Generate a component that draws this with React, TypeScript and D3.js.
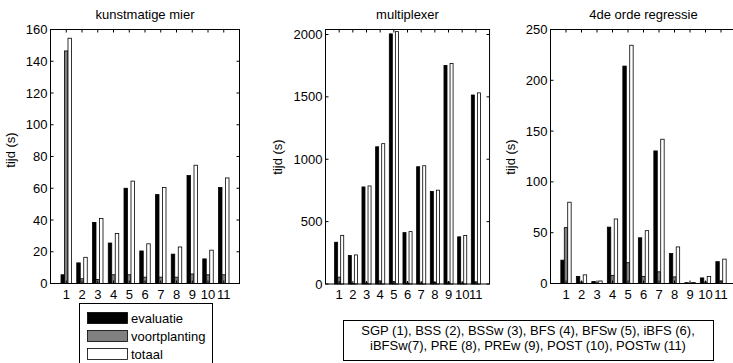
import React from 'react';
import * as d3 from 'd3';

const groups = ['1', '2', '3', '4', '5', '6', '7', '8', '9', '10', '11'];
const seriesNames = ['evaluatie', 'voortplanting', 'totaal'];
const seriesColors = ['#000000', '#808080', '#ffffff'];

const mierEvaluatie = [5.5, 13, 38.5, 25.5, 60, 20.5, 56, 18.5, 68, 15.5, 60.5];
const mierVoortplanting = [146.5, 3, 2.5, 5.5, 5.5, 4, 4, 4, 6, 5.5, 5.5];
const mierTotaal = [154.5, 16.5, 41, 31.5, 64.5, 25, 60.5, 23, 74.5, 21, 66.5];

const muxEvaluatie = [335, 228, 778, 1100, 2005, 412, 940, 742, 1752, 378, 1515];
const muxVoortplanting = [55, 5, 8, 25, 18, 8, 8, 12, 15, 8, 15];
const muxTotaal = [390, 233, 786, 1125, 2023, 420, 948, 752, 1768, 388, 1532];

const regEvaluatie = [23, 7, 2, 55.5, 214, 45, 130.5, 29.5, 0.8, 5.5, 21.5];
const regVoortplanting = [55, 1.5, 0.5, 8, 20.5, 7, 11.5, 6.5, 0.3, 1.5, 2.5];
const regTotaal = [80, 8.5, 2.5, 63.5, 234.5, 52, 142, 36, 1, 7, 24];

const mierTicks = [0, 20, 40, 60, 80, 100, 120, 140, 160];
const muxTicks = [0, 500, 1000, 1500, 2000];
const regTicks = [0, 50, 100, 150, 200, 250];

const legendNote = [
  'SGP (1), BSS (2), BSSw (3), BFS (4), BFSw (5), iBFS (6),',
  'iBFSw(7), PRE (8), PREw (9), POST (10), POSTw (11)',
];

const FONT = "'Liberation Sans', Arial, sans-serif";
const FS = 13;

type PanelProps = {
  title: string;
  left: number;
  step: number;
  top: number;
  bottom: number;
  yMax: number;
  ticks: number[];
  data: number[][];
  ylabelX: number;
  ylabelY: number;
};

function Panel({ title, left, step, top, bottom, yMax, ticks, data, ylabelX, ylabelY }: PanelProps) {
  const x = d3.scaleLinear().domain([0, 12]).range([left, left + 12 * step]);
  const y = d3.scaleLinear().domain([0, yMax]).range([bottom, top]);
  const right = x(12);
  const bw = 0.222;
  const offsets = [-bw, 0, bw];
  const tl = 3;
  return (
    <g>
      <rect x={left} y={top} width={right - left} height={bottom - top} fill="#fff" />
      {data.map((vals, k) =>
        vals.map((v, i) => {
          const cx = i + 1 + offsets[k];
          const x0 = x(cx - bw / 2);
          const x1 = x(cx + bw / 2);
          return (
            <rect
              key={`${k}-${i}`}
              x={x0}
              y={y(v)}
              width={x1 - x0}
              height={y(0) - y(v)}
              fill={seriesColors[k]}
              stroke="#000"
              strokeWidth={0.8}
            />
          );
        })
      )}
      {ticks.map((t) => (
        <g key={t}>
          <line x1={left} x2={left + tl} y1={y(t)} y2={y(t)} stroke="#000" />
          <line x1={right} x2={right - tl} y1={y(t)} y2={y(t)} stroke="#000" />
          <text x={left - 3} y={y(t) + 4.5} textAnchor="end" fontSize={FS} fontFamily={FONT}>
            {t}
          </text>
        </g>
      ))}
      {groups.map((g, i) => (
        <g key={g}>
          <line x1={x(i + 1)} x2={x(i + 1)} y1={top} y2={top + tl} stroke="#000" />
          <line x1={x(i + 1)} x2={x(i + 1)} y1={bottom} y2={bottom - tl} stroke="#000" />
          <text x={x(i + 1)} y={299} textAnchor="middle" fontSize={FS} fontFamily={FONT}>
            {g}
          </text>
        </g>
      ))}
      <rect x={left} y={top} width={right - left} height={bottom - top} fill="none" stroke="#000" strokeWidth={1} />
      <text x={(left + right) / 2} y={19} textAnchor="middle" fontSize={FS} fontFamily={FONT}>
        {title}
      </text>
      <text
        transform={`translate(${ylabelX},${ylabelY}) rotate(-90)`}
        textAnchor="middle"
        fontSize={FS}
        fontFamily={FONT}
      >
        tijd (s)
      </text>
    </g>
  );
}

export default function App() {
  return (
    <svg
      width={733}
      height={363}
      style={{ position: 'absolute', left: 0, top: 0, background: '#fff' }}
    >
      <rect x={0} y={0} width={733} height={363} fill="#fff" />
      <Panel
        title="kunstmatige mier"
        left={50.5}
        step={15.75}
        top={29.5}
        bottom={283.5}
        yMax={160}
        ticks={mierTicks}
        data={[mierEvaluatie, mierVoortplanting, mierTotaal]}
        ylabelX={15}
        ylabelY={150}
      />
      <Panel
        title="multiplexer"
        left={325.5}
        step={13.67}
        top={29.5}
        bottom={284}
        yMax={2040}
        ticks={muxTicks}
        data={[muxEvaluatie, muxVoortplanting, muxTotaal]}
        ylabelX={282}
        ylabelY={157}
      />
      <Panel
        title="4de orde regressie"
        left={550.5}
        step={15.5}
        top={29.5}
        bottom={283.5}
        yMax={250}
        ticks={regTicks}
        data={[regEvaluatie, regVoortplanting, regTotaal]}
        ylabelX={515}
        ylabelY={157}
      />
      {/* legend */}
      <g>
        <rect x={79.5} y={303.5} width={133} height={62} fill="#fff" stroke="#000" />
        {seriesNames.map((s, k) => (
          <g key={s}>
            <rect
              x={87.5}
              y={312.5 + k * 18}
              width={40}
              height={11}
              fill={seriesColors[k]}
              stroke="#000"
              strokeWidth={0.8}
            />
            <text x={131} y={322.5 + k * 18} fontSize={FS} fontFamily={FONT}>
              {s}
            </text>
          </g>
        ))}
      </g>
      <g>
        <rect x={343.5} y={320.5} width={370} height={40} fill="#fff" stroke="#000" />
        {legendNote.map((l, i) => (
          <text key={i} x={528} y={335} dy={i * 15} textAnchor="middle" fontSize={FS} fontFamily={FONT}>
            {l}
          </text>
        ))}
      </g>
    </svg>
  );
}
